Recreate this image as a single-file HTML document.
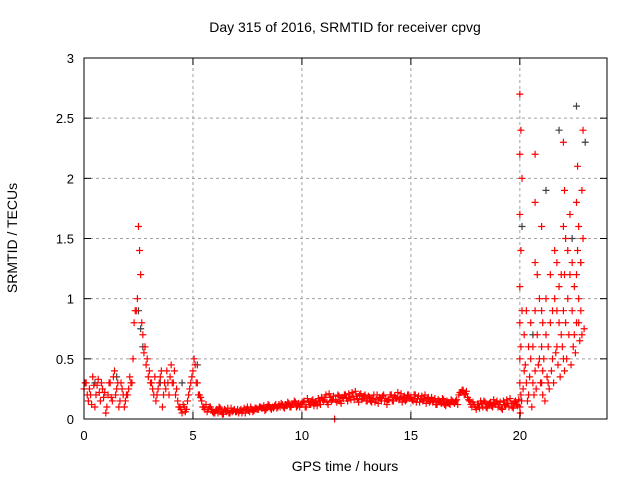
<!DOCTYPE html>
<html><head><meta charset="utf-8"><style>
body{margin:0;background:#fff}
svg{display:block;font-family:"Liberation Sans",sans-serif}
</style></head><body>
<svg id="chart" width="640" height="480" viewBox="0 0 640 480" xmlns="http://www.w3.org/2000/svg">
<text x="345" y="32" font-size="14" text-anchor="middle">Day 315 of 2016, SRMTID for receiver cpvg</text>
<text x="345" y="471" font-size="14" text-anchor="middle">GPS time / hours</text>
<text transform="translate(17,238) rotate(-90)" font-size="14" text-anchor="middle">SRMTID / TECUs</text>
<g id="grid"></g>
<g id="gray"></g>
<g id="red"></g>
<g id="axes"></g>
</svg>
<script>
const xTicks=[0,5,10,15,20];
const yTicks=[0,0.5,1,1.5,2,2.5,3];
const yTickLabels=["0","0.5","1","1.5","2","2.5","3"];
const quietStart=0, quietStep=0.1;
const redQuiet=[.25,.3,.15,.2,.35,.1,.28,.22,.3,.18,
.05,.2,.3,.15,.4,.25,.1,.3,.2,.15,
.2,.35,.3,.8,.9,1.6,1.2,.7,.6,.5,
.4,.3,.2,.15,.25,.35,.1,.3,.4,.2,
.45,.3,.2,.15,.1,.05,.1,.08,.2,.3,
.4,.45,.3,.2,.15,.1,.12,.08,.1,.06,
.05,.08,.1,.06,.04,.07,.09,.05,.06,.08,
.06,.05,.08,.07,.05,.1,.06,.08,.07,.09,
.08,.1,.09,.07,.1,.11,.08,.09,.12,.1,
.1,.12,.09,.11,.13,.1,.12,.14,.11,.1,
.12,.15,.1,.14,.12,.16,.13,.11,.15,.18,
.15,.2,.12,.18,.16,0,.14,.19,.13,.17,
.2,.15,.18,.22,.16,.19,.14,.21,.17,.2,
.15,.18,.14,.2,.16,.13,.17,.19,.15,.12,
.16,.2,.15,.18,.22,.17,.14,.19,.16,.2,
.18,.15,.2,.17,.14,.19,.16,.13,.18,.15,
.14,.17,.12,.15,.13,.16,.11,.14,.12,.15,
.13,.16,.2,.22,.24,.21,.18,.15,.1,.12,
.08,.12,.15,.1,.14,.09,.13,.11,.16,.12,
.1,.14,.08,.12,.16,.1,.13,.09,.15,.11];
const redQuiet2=[.3,.2,.25,.12,.28,.2,.33,.15,.25,.22,
.1,.3,.18,.35,.2,.3,.15,.25,.1,.2,
.25,.3,.5,.9,1.0,1.4,.8,.55,.45,.35,
.3,.25,.35,.2,.3,.4,.2,.25,.3,.35,
.3,.4,.25,.1,.08,.12,.06,.15,.25,.35,
.5,.3,.2,.18,.1,.08,.06,.1,.08,.05,
.07,.05,.09,.04,.08,.06,.05,.09,.07,.06,
.08,.07,.05,.09,.08,.07,.1,.06,.09,.08,
.1,.09,.11,.08,.12,.09,.1,.11,.09,.12,
.13,.1,.12,.14,.1,.12,.15,.1,.13,.12,
.14,.1,.17,.12,.15,.11,.14,.17,.12,.16,
.18,.14,.21,.15,.19,.16,.2,.15,.18,.2,
.17,.21,.16,.19,.23,.17,.2,.16,.19,.15,
.19,.15,.17,.14,.2,.18,.15,.2,.17,.16,
.2,.15,.19,.17,.16,.21,.18,.15,.2,.17,
.16,.2,.14,.19,.17,.15,.2,.17,.14,.18,
.15,.12,.16,.14,.17,.12,.15,.13,.16,.14,
.15,.12,.22,.24,.2,.23,.16,.12,.14,.1,
.12,.09,.13,.15,.1,.12,.14,.1,.13,.15,
.12,.09,.15,.11,.13,.17,.1,.14,.12,.16];
const stormT=[20,20,20,20,20,20,20,20,20.05,20.05,20.05,20.05,20.1,20.1,20.2,20.2,20.3,20.3,20.4,20.4,20.5,20.5,20.6,20.6,20.7,20.7,20.7,20.7,20.7,20.8,20.8,20.9,20.9,21,21,21,21,21.05,21.05,21.1,21.2,21.2,21.3,21.3,21.4,21.4,21.5,21.5,21.6,21.6,21.7,21.7,21.7,21.8,21.8,21.9,21.9,22,22,22,22,22.05,22.05,22.1,22.1,22.2,22.2,22.3,22.3,22.4,22.4,22.5,22.5,22.6,22.6,22.6,22.65,22.65,22.7,22.7,22.8,22.8,22.85,22.85,22.9,22.9];
const stormV=[.1,.3,.5,.8,1.1,1.7,2.2,2.7,.2,.6,1.4,2.4,.9,2.0,.4,.7,.3,.9,.2,.6,.5,.8,.3,.6,.4,.9,1.3,1.8,2.2,.7,1.2,.5,1.0,.3,.6,.9,1.6,.4,.8,.5,.7,1.0,.3,.6,.8,1.2,.5,.9,1.0,1.4,.6,.9,1.3,.8,1.1,.7,1.2,.5,.9,1.6,2.3,1.2,1.9,.8,1.5,1.0,1.4,1.2,1.7,.9,1.3,.7,1.1,.8,1.2,1.8,1.4,2.1,1.0,1.6,.9,1.3,.7,1.9,1.5,2.4];
const stormLowT=[20.02,20.08,20.15,20.25,20.35,20.45,20.55,20.65,20.75,20.85,20.95,21.05,21.15,21.25,21.35,21.45,21.55,21.65,21.75,21.85,21.95,22.05,22.15,22.25,22.35,22.45,22.55,22.7,22.75,22.95];
const stormLowV=[.05,.15,.25,.45,.15,.35,.1,.2,.25,.45,.3,.2,.15,.35,.25,.4,.3,.55,.45,.35,.6,.4,.5,.7,.45,.6,.55,.8,.65,.75];
const grayT=[0.5,1.5,2.5,2.6,2.7,3.5,4.5,5.2,20.1,20.6,21.2,21.8,22.4,22.6,22.8,23.0];
const grayV=[.3,.35,.9,.75,.6,.3,.3,.45,1.6,.7,1.9,2.4,1.5,2.6,1.3,2.3];

const X0=84,X1=607,Y0=419,Y1=58;
const sx=t=>X0+(X1-X0)*t/24, sy=v=>Y0-(Y0-Y1)*v/3;
const NS="http://www.w3.org/2000/svg";
function mk(tag,attrs,parent){const e=document.createElementNS(NS,tag);for(const k in attrs)e.setAttribute(k,attrs[k]);parent.appendChild(e);return e;}
const grid=document.getElementById('grid'),axes=document.getElementById('axes');
xTicks.forEach(t=>{
 if(t>0){const g=mk('line',{x1:sx(t),x2:sx(t),y1:Y0,y2:Y1,stroke:'#a0a0a0','stroke-dasharray':'3,3'},grid);
 
 }
 const l=mk('text',{x:sx(t),y:Y0+21,'font-size':13,'text-anchor':'middle'},axes);l.textContent=t;
 
 
 mk('line',{x1:sx(t),x2:sx(t),y1:Y0,y2:Y0-7,stroke:'#000'},axes);
 mk('line',{x1:sx(t),x2:sx(t),y1:Y1,y2:Y1+7,stroke:'#000'},axes);
});
yTicks.forEach((v,i)=>{
 if(v>0&&v<3){const g=mk('line',{x1:X0,x2:X1,y1:sy(v),y2:sy(v),stroke:'#a0a0a0','stroke-dasharray':'3,3'},grid);
 
 }
 const l=mk('text',{x:X0-10,y:sy(v)+5,'font-size':13,'text-anchor':'end'},axes);l.textContent=yTickLabels[i];
 
 
 mk('line',{x1:X0,x2:X0+7,y1:sy(v),y2:sy(v),stroke:'#000'},axes);
 mk('line',{x1:X1,x2:X1-7,y1:sy(v),y2:sy(v),stroke:'#000'},axes);
});
const frame=mk('rect',{x:X0,y:Y1,width:X1-X0,height:Y0-Y1,fill:'none',stroke:'#000'},axes);


function plus(g,t,v,c){
 const x=sx(t),y=sy(v);
 const p=mk('path',{d:`M${x-3.5},${y}h7M${x},${y-3.5}v7`,stroke:c,'stroke-width':1.2,fill:'none'},g);
 
 
}
const gg=document.getElementById('gray'),rg=document.getElementById('red');
grayT.forEach((t,i)=>plus(gg,t,grayV[i],'#404040'));
redQuiet.forEach((v,i)=>plus(rg,quietStart+i*quietStep,v,'#ff0000'));
redQuiet2.forEach((v,i)=>plus(rg,quietStart+i*quietStep+0.05,v,'#ff0000'));
stormT.forEach((t,i)=>plus(rg,t,stormV[i],'#ff0000'));
stormLowT.forEach((t,i)=>plus(rg,t,stormLowV[i],'#ff0000'));
</script>
</body></html>
